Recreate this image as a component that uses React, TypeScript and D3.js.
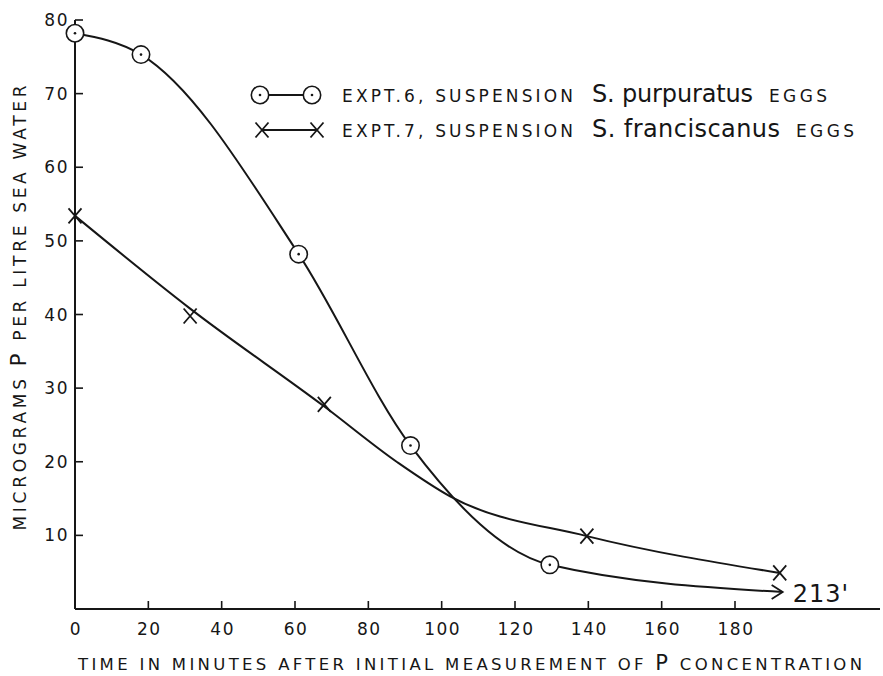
import * as d3 from "d3";

// Expt. 6 — S. purpuratus eggs (circles)
const exp6Time = [0, 18, 61, 91.5, 129.5];
const exp6Conc = [78.2, 75.3, 48.2, 22.2, 6.0];
// curve runs on to an arrow for the 213 min reading (off scale)
const exp6TailTime = 193;
const exp6TailConc = 2.3;
const exp6TailLabel = "213'";

// Expt. 7 — S. franciscanus eggs (crosses)
const exp7Time = [0, 31.4, 68, 139.6, 192.2];
const exp7Conc = [53.4, 39.8, 27.8, 9.9, 4.9];
const exp7CurveTime = [0, 31.4, 68, 88, 102.3, 139.6, 192.2];
const exp7CurveConc = [53.4, 40.8, 27.5, 19.9, 15.3, 9.9, 4.9];

const xTicks = [0, 20, 40, 60, 80, 100, 120, 140, 160, 180];
const yTicks = [10, 20, 30, 40, 50, 60, 70, 80];

const W = 883;
const H = 676;
const INK = "#161616";
const FONT = "'DejaVu Sans', sans-serif";

const x = d3.scaleLinear().domain([0, 180]).range([75, 735]);
const y = d3.scaleLinear().domain([0, 80]).range([609, 20]);

type Pt = [number, number];

const line = d3
  .line<Pt>()
  .x((d) => x(d[0]))
  .y((d) => y(d[1]))
  .curve(d3.curveMonotoneX);

function Circ({ cx, cy }: { cx: number; cy: number }) {
  return (
    <g>
      <circle cx={cx} cy={cy} r={8.7} fill="#fff" stroke={INK} strokeWidth={1.6} />
      <circle cx={cx} cy={cy} r={1.3} fill={INK} />
    </g>
  );
}

function Cross({ cx, cy }: { cx: number; cy: number }) {
  const w = 6.5;
  const h = 7.5;
  return (
    <path
      d={`M${cx - w},${cy - h}L${cx + w},${cy + h}M${cx + w},${cy - h}L${cx - w},${cy + h}`}
      stroke={INK}
      strokeWidth={1.8}
      fill="none"
    />
  );
}

export default function App() {
  const pts6: Pt[] = exp6Time.map((t, i) => [t, exp6Conc[i]] as Pt);
  pts6.push([exp6TailTime, exp6TailConc]);
  const pts7: Pt[] = exp7Time.map((t, i) => [t, exp7Conc[i]] as Pt);
  const curve7: Pt[] = exp7CurveTime.map((t, i) => [t, exp7CurveConc[i]] as Pt);

  const tipX = x(exp6TailTime);
  const tipY = y(exp6TailConc);

  return (
    <svg
      width={W}
      height={H}
      style={{ position: "absolute", left: 0, top: 0, background: "#fff" }}
      fontFamily={FONT}
    >
      <rect width={W} height={H} fill="#fff" />

      {/* axes */}
      <line x1={x(0)} y1={y(80)} x2={x(0)} y2={y(0)} stroke={INK} strokeWidth={2} />
      <line x1={x(0)} y1={y(0)} x2={880} y2={y(0)} stroke={INK} strokeWidth={2} />

      {yTicks.map((t) => (
        <g key={"y" + t}>
          <line x1={x(0)} y1={y(t)} x2={x(0) + 8} y2={y(t)} stroke={INK} strokeWidth={1.6} />
          <text
            x={69}
            y={y(t) + 6}
            textAnchor="end"
            fontSize={17}
            letterSpacing={1.5}
            fill={INK}
          >
            {t}
          </text>
        </g>
      ))}

      {xTicks.map((t) => (
        <g key={"x" + t}>
          {t > 0 && (
            <line x1={x(t)} y1={y(0)} x2={x(t)} y2={y(0) - 8} stroke={INK} strokeWidth={1.6} />
          )}
          <text
            x={x(t) + 1}
            y={635}
            textAnchor="middle"
            fontSize={17}
            letterSpacing={1.5}
            fill={INK}
          >
            {t}
          </text>
        </g>
      ))}

      {/* axis titles */}
      <text
        x={470}
        y={670}
        textAnchor="middle"
        fontSize={16.5}
        textLength={784}
        lengthAdjust="spacing"
        fill={INK}
      >
        TIME IN MINUTES AFTER INITIAL MEASUREMENT OF <tspan fontSize={21}>P</tspan> CONCENTRATION
      </text>
      <text
        transform="translate(26,308) rotate(-90)"
        textAnchor="middle"
        fontSize={17}
        textLength={445}
        lengthAdjust="spacing"
        fill={INK}
      >
        MICROGRAMS <tspan fontSize={21}>P</tspan> PER LITRE SEA WATER
      </text>

      {/* curves */}
      <path d={line(curve7) ?? ""} fill="none" stroke={INK} strokeWidth={2} />
      <path d={line(pts6) ?? ""} fill="none" stroke={INK} strokeWidth={2} />
      <path
        d={`M${tipX - 11},${tipY - 7}L${tipX},${tipY}L${tipX - 11},${tipY + 7}`}
        fill="none"
        stroke={INK}
        strokeWidth={1.8}
      />
      <text x={tipX + 10} y={tipY + 10} fontSize={24} letterSpacing={1} fill={INK}>
        {exp6TailLabel}
      </text>

      {pts7.map((p, i) => (
        <Cross key={"c7" + i} cx={x(p[0])} cy={y(p[1])} />
      ))}
      {exp6Time.map((t, i) => (
        <Circ key={"c6" + i} cx={x(t)} cy={y(exp6Conc[i])} />
      ))}

      {/* legend */}
      <g>
        <line x1={260} y1={95} x2={312} y2={95} stroke={INK} strokeWidth={1.8} />
        <Circ cx={260} cy={95} />
        <Circ cx={312} cy={95} />
        <text x={342} y={102} fontSize={17} textLength={231} lengthAdjust="spacing" fill={INK}>
          EXPT.6, SUSPENSION
        </text>
        <text x={592} y={102} fontSize={24} textLength={161} lengthAdjust="spacing" fill={INK}>
          S. purpuratus
        </text>
        <text x={769} y={102} fontSize={17} textLength={58} lengthAdjust="spacing" fill={INK}>
          EGGS
        </text>

        <line x1={262} y1={130} x2={317} y2={130} stroke={INK} strokeWidth={1.8} />
        <Cross cx={262} cy={130} />
        <Cross cx={317} cy={130} />
        <text x={342} y={137} fontSize={17} textLength={231} lengthAdjust="spacing" fill={INK}>
          EXPT.7, SUSPENSION
        </text>
        <text x={592} y={137} fontSize={24} textLength={188} lengthAdjust="spacing" fill={INK}>
          S. franciscanus
        </text>
        <text x={796} y={137} fontSize={17} textLength={58} lengthAdjust="spacing" fill={INK}>
          EGGS
        </text>
      </g>
    </svg>
  );
}
